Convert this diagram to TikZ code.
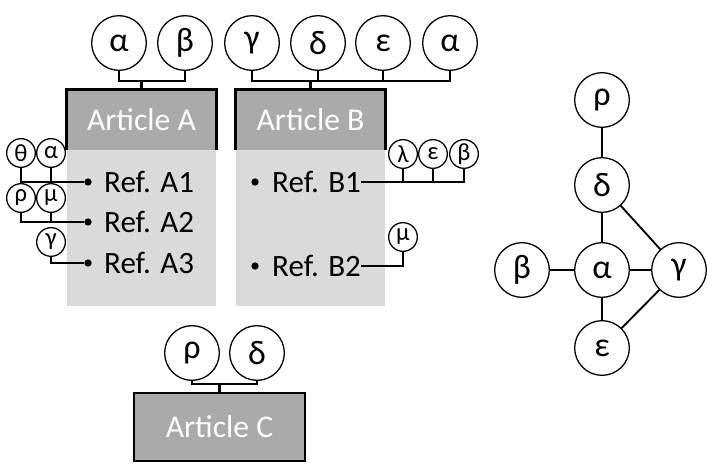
\documentclass[tikz,border=0pt]{standalone}
\usepackage{fontspec}
\setmainfont{Carlito}
\definecolor{headgray}{RGB}{170,170,170}
\definecolor{panelgray}{RGB}{218,218,218}
\begin{document}
\begin{tikzpicture}[x=0.03cm, y=0.03cm,
	big/.style={circle, draw, line width=1.1pt, minimum size=1.64cm, inner sep=0pt, font=\fontsize{29}{29}\selectfont},
	small/.style={circle, draw, line width=1.1pt, minimum size=0.86cm, inner sep=0pt, font=\fontsize{21}{21}\selectfont},
	head/.style={fill=headgray, text=white, minimum width=4.47cm, minimum height=1.8cm, inner sep=0pt, font=\fontsize{27}{27}\selectfont},
	frame/.style={line width=2.4pt},
	link/.style={line width=1.8pt},
	edge/.style={line width=1.6pt},
	dot/.style={circle, fill, minimum size=0.22cm, inner sep=0pt},
	ref/.style={anchor=west, inner sep=0pt, font=\fontsize{26.5}{26.5}\selectfont}]
	\useasboundingbox (0,0) rectangle (707,465);
	% reference panels
	\fill[panelgray] (67,159) rectangle (216,315);
	\fill[panelgray] (236,159) rectangle (385,315);
	% article headers
	\node[head] (hA) at (141.5,345) {Article A};
	\node[head] (hB) at (310.5,345) {Article B};
	\node[head, draw, line width=2.4pt, minimum width=5.13cm, minimum height=2.04cm] (hC) at (219.5,38) {Article C};
	\draw[frame] (hA.south west) |- (hA.north east) -- (hA.south east);
	\draw[frame] (hB.south west) |- (hB.north east) -- (hB.south east);
	% keywords of article A
	\node[big] (aA) at (119,422) {α};
	\node[big] (bA) at (185,422) {β};
	\coordinate (jA) at (141.5,384);
	\draw[link] (aA.south) |- (jA) -| (bA.south);
	\draw[link] (jA) -- (hA.north);
	% keywords of article B
	\foreach \n/\x/\t in {gB/252/γ, dB/318/δ, eB/383/ε, aB/450/α}
		\node[big] (\n) at (\x,422) {\t};
	\coordinate (jB) at (310.5,384);
	\draw[link] (gB.south) |- (jB) -| (aB.south);
	\draw[link] (dB.south) -- (dB.south |- jB);
	\draw[link] (eB.south) -- (eB.south |- jB);
	\draw[link] (jB) -- (hB.north);
	% keywords of article C
	\node[big] (rC) at (192,112) {ρ};
	\node[big] (dC) at (257,112) {δ};
	\coordinate (jC) at (219.5,81);
	\draw[link] (rC.south) |- (jC) -| (dC.south);
	\draw[link] (jC) -- (hC.north);
	% references of article A
	\node[dot] (pA1) at (88,283) {};
	\node[dot] (pA2) at (88,243) {};
	\node[dot] (pA3) at (88,202) {};
	\node[ref] (rA1) at (104,283) {Ref. A1};
	\node[ref] (rA2) at (104,243) {Ref. A2};
	\node[ref] (rA3) at (104,202) {Ref. A3};
	\node[small] (tA1) at (21,312) {θ};
	\node[small] (aA1) at (51,312) {α};
	\node[small] (rA2k) at (21,267) {ρ};
	\node[small] (mA2) at (51,267) {μ};
	\node[small] (gA3) at (51,223) {γ};
	\draw[link] (tA1.south) |- (pA1);
	\draw[link] (aA1.south) -- (aA1.south |- pA1);
	\draw[link] (rA2k.south) |- (pA2);
	\draw[link] (mA2.south) -- (mA2.south |- pA2);
	\draw[link] (gA3.south) |- (pA3);
	% references of article B
	\node[dot] (pB1) at (255,283) {};
	\node[dot] (pB2) at (255,199) {};
	\node[ref] (rB1) at (272,283) {Ref. B1};
	\node[ref] (rB2) at (272,199) {Ref. B2};
	\node[small] (lB1) at (403,311) {λ};
	\node[small] (eB1) at (433,311) {ε};
	\node[small] (bB1) at (464,311) {β};
	\node[small] (mB2) at (403,228) {μ};
	\draw[link] (rB1.east) -| (bB1.south);
	\draw[link] (lB1.south) -- (lB1.south |- rB1.east);
	\draw[link] (eB1.south) -- (eB1.south |- rB1.east);
	\draw[link] (rB2.east) -| (mB2.south);
	% keyword graph
	\node[big] (kr) at (602,365) {ρ};
	\node[big] (kd) at (602,280) {δ};
	\node[big] (ka) at (602,195) {α};
	\node[big] (kb) at (522,195) {β};
	\node[big] (kg) at (679,195) {γ};
	\node[big] (ke) at (602,117) {ε};
	\draw[edge] (kr) -- (kd);
	\draw[edge] (kd) -- (ka);
	\draw[edge] (kb) -- (ka);
	\draw[edge] (ka) -- (kg);
	\draw[edge] (ka) -- (ke);
	\draw[edge] (kd) -- (kg);
	\draw[edge] (ke) -- (kg);
\end{tikzpicture}
\end{document}
